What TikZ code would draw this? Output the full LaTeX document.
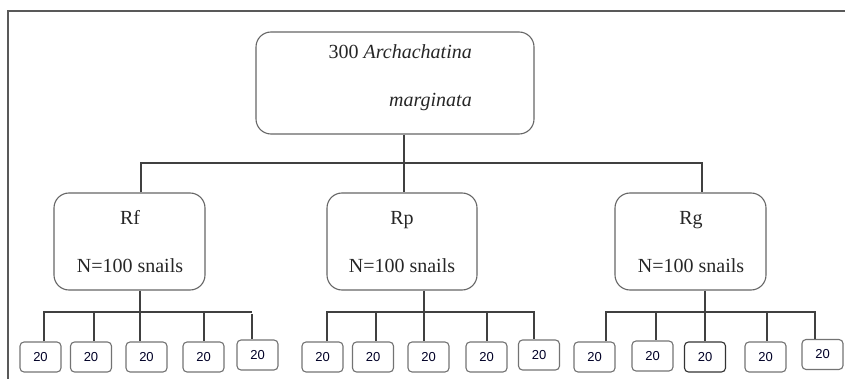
\documentclass[tikz,border=0pt]{standalone}
\usepackage{fontspec}
\setmainfont{Liberation Serif}
\newfontfamily\boxsans{Liberation Sans}
\begin{document}
\begin{tikzpicture}[x=1pt,y=-1pt,
  bigbox/.style={draw=black!60,line width=1.1pt,rounded corners=15pt,inner sep=0pt},
  smallbox/.style={draw=black!55,line width=1.1pt,rounded corners=4pt,inner sep=0pt,
     minimum width=41pt,minimum height=30pt,font=\boxsans\fontsize{13}{15}\selectfont,text=black!85!blue},
  bigtext/.style={anchor=base,inner sep=0pt,font=\fontsize{20}{24}\selectfont,text=black!85},
  conn/.style={draw=black!75,line width=1.1pt},
  frame/.style={draw=black!65,line width=1.3pt}]
\useasboundingbox (0,0) rectangle (845,379);
% frame
\coordinate (fbl) at (8,379);
\coordinate (ftl) at (8,11);
\coordinate (ftr) at (845,11);
\draw[frame] (fbl) -- (ftl) -- (ftr);
% top box
\node[bigbox,minimum width=278pt,minimum height=102pt] (top) at (395,83) {};
\node[anchor=base east,inner sep=0pt,font=\fontsize{20}{24}\selectfont,text=black!85] (t1) at (472,59) {300 \textit{Archachatina}};
\node[anchor=base east,inner sep=0pt,font=\fontsize{20}{24}\selectfont,text=black!85] (t2) at (472,107) {\textit{marginata}};
% level 2 boxes
\node[bigbox,minimum width=151pt,minimum height=97pt] (rf) at (129.5,241.5) {};
\node[bigbox,minimum width=150pt,minimum height=97pt] (rp) at (402,241.5) {};
\node[bigbox,minimum width=151pt,minimum height=97pt] (rg) at (690.5,241.5) {};
\node[bigtext] (rft) at (130,225) {Rf};
\node[bigtext] (rfn) at (130,272) {N=100 snails};
\node[bigtext] (rpt) at (402,225) {Rp};
\node[bigtext] (rpn) at (402,272) {N=100 snails};
\node[bigtext] (rgt) at (691,225) {Rg};
\node[bigtext] (rgn) at (691,272) {N=100 snails};
% top bus
\coordinate (ja) at (141,163);
\coordinate (jb) at (404,163);
\coordinate (jc) at (702,163);
\draw[conn] (jb |- top.south) -- (jb) -- (jb |- rp.north);
\draw[conn] (ja |- rf.north) -- (ja) -- (jc) -- (jc |- rg.north);
% small boxes
\node[smallbox] (b1) at (40.5,357) {20};
\node[smallbox] (b2) at (91,357) {20};
\node[smallbox] (b3) at (146.5,357) {20};
\node[smallbox] (b4) at (203.5,357) {20};
\node[smallbox] (b5) at (257.5,355) {20};
\node[smallbox] (b6) at (322.5,357) {20};
\node[smallbox] (b7) at (373,357) {20};
\node[smallbox] (b8) at (428.5,357) {20};
\node[smallbox] (b9) at (486.5,357) {20};
\node[smallbox] (b10) at (539,355) {20};
\node[smallbox] (b11) at (594.5,357) {20};
\node[smallbox] (b12) at (652.5,356) {20};
\node[smallbox,draw=black!80] (b13) at (705,357) {20};
\node[smallbox] (b14) at (765.5,357) {20};
\node[smallbox] (b15) at (822.5,354.5) {20};
% group 1 bus
\coordinate (g1a) at (44,312);
\coordinate (g1b) at (94,312);
\coordinate (g1c) at (140,312);
\coordinate (g1d) at (204,312);
\coordinate (g1e) at (252,312);
\draw[conn] (g1c |- rf.south) -- (g1c) -- (g1c |- b3.north);
\draw[conn] (g1a |- b1.north) -- (g1a) -- (g1e);
\draw[conn] (g1b) -- (g1b |- b2.north);
\draw[conn] (g1d) -- (g1d |- b4.north);
\draw[conn] ([yshift=-2pt]g1e) -- (g1e |- b5.north);
% group 2 bus
\coordinate (g2a) at (327,312);
\coordinate (g2b) at (376,312);
\coordinate (g2c) at (424,312);
\coordinate (g2d) at (487,312);
\coordinate (g2e) at (534,312);
\draw[conn] (g2c |- rp.south) -- (g2c) -- (g2c |- b8.north);
\draw[conn] (g2a |- b6.north) -- (g2a) -- (g2e) -- (g2e |- b10.north);
\draw[conn] (g2b) -- (g2b |- b7.north);
\draw[conn] (g2d) -- (g2d |- b9.north);
% group 3 bus
\coordinate (g3a) at (606,312);
\coordinate (g3b) at (656,312);
\coordinate (g3c) at (705,312);
\coordinate (g3d) at (767,312);
\coordinate (g3e) at (815,312);
\draw[conn] (g3c |- rg.south) -- (g3c) -- (g3c |- b13.north);
\draw[conn] (g3a |- b11.north) -- (g3a) -- (g3e) -- (g3e |- b15.north);
\draw[conn] (g3b) -- (g3b |- b12.north);
\draw[conn] (g3d) -- (g3d |- b14.north);
\end{tikzpicture}
\end{document}
